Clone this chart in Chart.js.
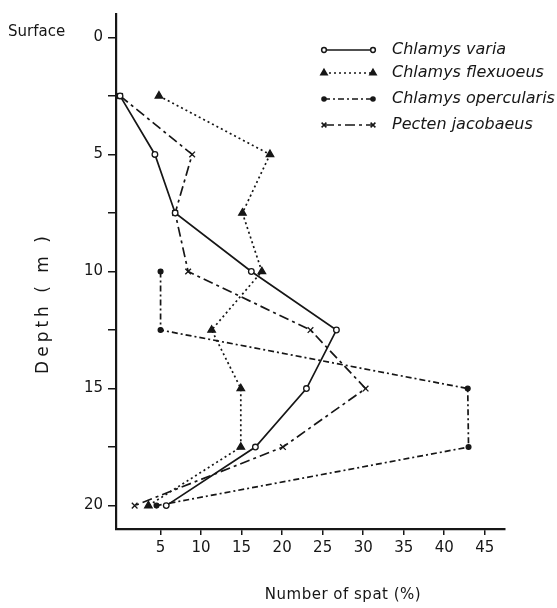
<!DOCTYPE html>
<html>
<head>
<meta charset="utf-8">
<script src="https://cdn.jsdelivr.net/npm/chart.js@4.4.0/dist/chart.umd.min.js"></script>
<style>
  html, body { margin: 0; padding: 0; background: #fff; }
  #wrap { width: 557px; height: 608px; }
</style>
</head>
<body>
<div id="wrap"><canvas id="spatChart" width="557" height="608"></canvas></div>
<script>
// depth of each sampling level (m) and spat counts (%) per species
var depths = [2.5, 5, 7.5, 10, 12.5, 15, 17.5, 20];
var variaSpat = [0, 4.3, 6.8, 16.2, 26.7, 23, 16.7, 5.7];
var flexuoeusSpat = [4.8, 18.5, 15.1, 17.5, 11.3, 14.9, 14.9, 3.5];
var operDepths = [10, 12.5, 15, 17.5, 20];
var operSpat = [5, 5, 42.9, 43, 4.5];
var pectenSpat = [0, 8.9, 6.8, 8.4, 23.5, 30.3, 20.1, 1.8];

var depthTicks = [0, 2.5, 5, 7.5, 10, 12.5, 15, 17.5, 20];
var spatTicks = [5, 10, 15, 20, 25, 30, 35, 40, 45];

var ink = '#161616';
var font = 'DejaVu Sans';

function toPoints(xs, ys) {
  return xs.map(function(v, i) { return { x: v, y: ys[i] }; });
}

var series = [
  { label: 'Chlamys varia', data: toPoints(variaSpat, depths), dash: [], style: 'circle', radius: 2.8, fill: '#fff' },
  { label: 'Chlamys flexuoeus', data: toPoints(flexuoeusSpat, depths), dash: [2, 3], style: 'triangle', radius: 4.3, fill: ink },
  { label: 'Chlamys opercularis', data: toPoints(operSpat, operDepths), dash: [6, 3, 2, 3], style: 'circle', radius: 2.4, fill: ink },
  { label: 'Pecten jacobaeus', data: toPoints(pectenSpat, depths), dash: [10, 4, 3, 4], style: 'crossRot', radius: 4, fill: ink }
];

// legend with a line sample and a marker at both ends, plus the free text labels
var annotations = {
  id: 'annotations',
  afterDraw: function(chart) {
    var ctx = chart.ctx;
    ctx.save();
    ctx.fillStyle = ink;
    ctx.strokeStyle = ink;

    ctx.font = '15px "' + font + '"';
    ctx.textAlign = 'left';
    ctx.textBaseline = 'middle';
    ctx.fillText('Surface', 8, 32);

    ctx.save();
    ctx.translate(44, 303);
    ctx.rotate(-Math.PI / 2);
    ctx.font = '17px "' + font + '"';
    ctx.letterSpacing = '4px';
    ctx.textAlign = 'center';
    ctx.fillText('Depth ( m )', 0, 0);
    ctx.restore();

    ctx.save();
    ctx.font = '15px "' + font + '"';
    ctx.letterSpacing = '0.5px';
    ctx.textAlign = 'center';
    ctx.fillText('Number of spat (%)', 343, 595);
    ctx.restore();

    var rowY = [50, 73, 99, 125];
    series.forEach(function(s, i) {
      var y = rowY[i];
      ctx.lineWidth = 1.5;
      ctx.setLineDash(s.dash);
      ctx.beginPath();
      ctx.moveTo(324, y);
      ctx.lineTo(373, y);
      ctx.stroke();
      ctx.setLineDash([]);
      ctx.fillStyle = s.fill;
      [324, 373].forEach(function(x) {
        Chart.helpers.drawPoint(ctx, { pointStyle: s.style, radius: s.radius * 0.85, rotation: 0, borderWidth: 1.2 }, x, y);
      });
      ctx.fillStyle = ink;
      ctx.font = 'italic 16px "' + font + '"';
      ctx.fillText(s.label, 392, y);
    });
    ctx.restore();
  }
};

new Chart(document.getElementById('spatChart').getContext('2d'), {
  type: 'scatter',
  data: {
    datasets: series.map(function(s) {
      return {
        label: s.label,
        data: s.data,
        showLine: true,
        borderColor: ink,
        borderWidth: 1.7,
        borderDash: s.dash,
        pointStyle: s.style,
        pointRadius: s.radius,
        pointHoverRadius: s.radius,
        pointBorderWidth: 1.3,
        pointBorderColor: ink,
        pointBackgroundColor: s.fill
      };
    })
  },
  options: {
    responsive: false,
    animation: false,
    layout: { padding: { top: 8, right: 52, left: 0, bottom: 0 } },
    plugins: {
      legend: { display: false },
      tooltip: { enabled: false }
    },
    scales: {
      x: {
        type: 'linear',
        min: -0.5,
        max: 47.5,
        afterBuildTicks: function(scale) {
          scale.ticks = spatTicks.map(function(v) { return { value: v }; });
        },
        afterFit: function(scale) { scale.height = 79; },
        grid: { drawOnChartArea: false, drawTicks: true, tickLength: 6, color: ink, lineWidth: 1.5 },
        border: { color: ink, width: 2.2 },
        ticks: { color: ink, font: { family: font, size: 15 }, padding: 4, maxRotation: 0, autoSkip: false }
      },
      y: {
        type: 'linear',
        reverse: true,
        min: -1,
        max: 21,
        afterBuildTicks: function(scale) {
          scale.ticks = depthTicks.map(function(v) { return { value: v }; });
        },
        afterFit: function(scale) { scale.width = 116; },
        grid: { drawOnChartArea: false, drawTicks: true, tickLength: 8, color: ink, lineWidth: 1.5 },
        border: { color: ink, width: 2.2 },
        ticks: {
          color: ink,
          font: { family: font, size: 15 },
          padding: 5,
          autoSkip: false,
          callback: function(v) { return v % 5 === 0 ? v : ''; }
        }
      }
    }
  },
  plugins: [annotations]
});
</script>
</body>
</html>
